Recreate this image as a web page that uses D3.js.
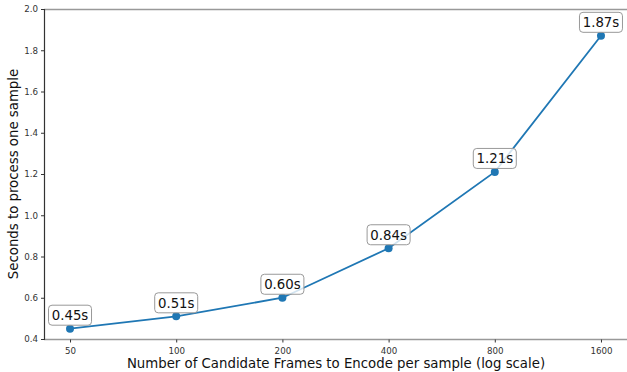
<!DOCTYPE html>
<html><head><meta charset="utf-8">
<script src="https://cdn.jsdelivr.net/npm/d3@7"></script>
<style>body{margin:0;background:#fff;}svg{display:block;font-family:"DejaVu Sans",sans-serif;}</style>
</head><body>
<svg id="c" width="627" height="372"></svg>
<script>
const frames = [50, 100, 200, 400, 800, 1600];
const seconds = [0.45, 0.51, 0.60, 0.84, 1.21, 1.87];
const labels = ["0.45s", "0.51s", "0.60s", "0.84s", "1.21s", "1.87s"];
const yTicks = [0.4, 0.6, 0.8, 1.0, 1.2, 1.4, 1.6, 1.8, 2.0];

const svg = d3.select("#c");
const L = 44, R = 627, T = 9, B = 339;
const x = d3.scaleLog().base(2).domain([50 * Math.pow(2, -0.245), 1600 * Math.pow(2, 0.245)]).range([L, R]);
const y = d3.scaleLinear().domain([0.4, 2.0]).range([B, T]);

// spines
svg.append("line").attr("x1", L).attr("x2", R).attr("y1", T + 0.5).attr("y2", T + 0.5).attr("stroke", "#999").attr("stroke-width", 1.5);
svg.append("line").attr("x1", L).attr("x2", R).attr("y1", B + 0.5).attr("y2", B + 0.5).attr("stroke", "#999").attr("stroke-width", 1.5);

const yAxis = d3.axisLeft(y).tickValues(yTicks).tickFormat(d3.format(".1f")).tickSize(3.5).tickPadding(3);
const gy = svg.append("g").attr("transform", `translate(${L + 0.5},0)`).call(yAxis);
gy.select(".domain").attr("stroke", "#333").attr("stroke-width", 1.2).attr("d", `M0,${T}V${B + 1}`);
gy.selectAll(".tick line").attr("stroke", "#333");
gy.selectAll(".tick text").attr("fill", "#333").style("font-size", "8.7px").style("font-family", "DejaVu Sans");

const xAxis = d3.axisBottom(x).tickValues(frames).tickFormat(d3.format("d")).tickSize(3).tickPadding(5);
const gx = svg.append("g").attr("transform", `translate(0,${B + 0.5})`).call(xAxis);
gx.select(".domain").remove();
gx.selectAll(".tick line").attr("stroke", "#333");
gx.selectAll(".tick text").attr("fill", "#333").style("font-size", "8.7px").style("font-family", "DejaVu Sans");

// line
const data = frames.map((f, i) => ({f, s: seconds[i], l: labels[i]}));
svg.append("path").datum(data)
  .attr("d", d3.line().x(d => x(d.f)).y(d => y(d.s)))
  .attr("fill", "none").attr("stroke", "#1f77b4").attr("stroke-width", 1.8);
svg.selectAll("circle.pt").data(data).join("circle").attr("class", "pt")
  .attr("cx", d => x(d.f)).attr("cy", d => y(d.s)).attr("r", 4).attr("fill", "#1f77b4");

// annotation boxes
const g = svg.selectAll("g.lab").data(data).join("g").attr("class", "lab")
  .attr("transform", d => `translate(${x(d.f)},${y(d.s) - 13.5})`);
g.append("rect").attr("x", -21.5).attr("y", -10).attr("width", 43).attr("height", 20).attr("rx", 3.5)
  .attr("fill", "white").attr("fill-opacity", 0.8).attr("stroke", "#999").attr("stroke-width", 1);
g.append("text").attr("text-anchor", "middle").attr("y", 5).style("font-size", "13.3px").attr("fill", "#111").text(d => d.l);

// axis titles
svg.append("text").attr("x", 336).attr("y", 368).attr("text-anchor", "middle").style("font-size", "13.3px").attr("fill", "#111")
  .text("Number of Candidate Frames to Encode per sample (log scale)");
svg.append("text").attr("transform", "translate(18,174) rotate(-90)").attr("text-anchor", "middle").style("font-size", "13.3px").attr("fill", "#111")
  .text("Seconds to process one sample");
</script>
</body></html>
